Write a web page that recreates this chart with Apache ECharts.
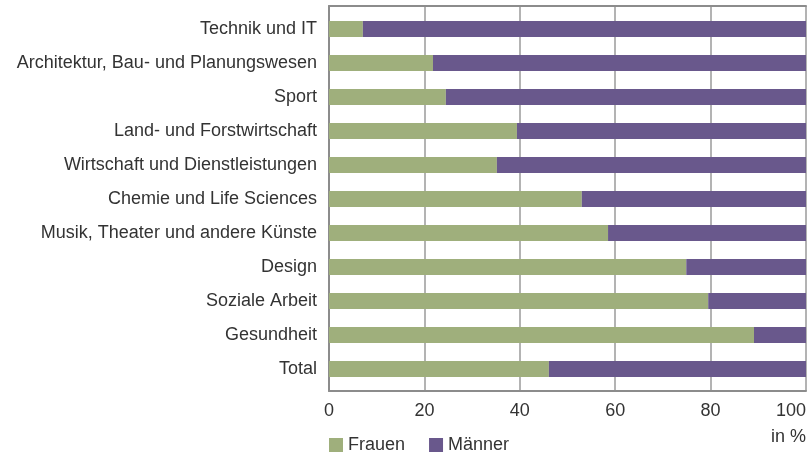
<!DOCTYPE html>
<html>
<head>
<meta charset="utf-8">
<script src="https://cdn.jsdelivr.net/npm/echarts@6/dist/echarts.min.js"></script>
<style>
  html, body { margin: 0; padding: 0; background: #fff; }
  #chart { width: 809px; height: 454px; }
</style>
</head>
<body>
<div id="chart"></div>
<script>
// categories top to bottom
var categories = [
  "Technik und IT",
  "Architektur, Bau- und Planungswesen",
  "Sport",
  "Land- und Forstwirtschaft",
  "Wirtschaft und Dienstleistungen",
  "Chemie und Life Sciences",
  "Musik, Theater und andere Künste",
  "Design",
  "Soziale Arbeit",
  "Gesundheit",
  "Total"
];
var frauen = [7.1, 21.8, 24.5, 39.4, 35.2, 53.0, 58.5, 74.9, 79.5, 89.1, 46.1];
var maenner = [92.9, 78.2, 75.5, 60.6, 64.8, 47.0, 41.5, 25.1, 20.5, 10.9, 53.9];

var font = "Liberation Sans";
var textColor = "#333";
var frameColor = "#8c8c8c";

var dom = document.getElementById("chart");
var myChart = echarts.init(dom, null, { renderer: "canvas" });

var option = {
  animation: false,
  textStyle: { fontFamily: font },
  grid: [
    // frame with gridlines
    { left: 329, right: 3, top: 6, bottom: 63 },
    // bars, a bit inset from the frame
    { left: 329, right: 3, top: 12, bottom: 68 }
  ],
  legend: {
    left: 324,
    top: 431,
    itemWidth: 14,
    itemHeight: 14,
    itemGap: 24,
    icon: "rect",
    textStyle: { fontSize: 18, color: textColor, fontFamily: font },
    data: ["Frauen", "Männer"]
  },
  graphic: [{
    type: "text",
    right: 3,
    top: 428,
    style: { text: "in %", fontSize: 18, fill: textColor, fontFamily: font }
  }],
  xAxis: [
    {
      gridIndex: 0,
      type: "value",
      min: 0,
      max: 100,
      interval: 20,
      axisLine: { show: true, lineStyle: { color: frameColor, width: 2 } },
      axisTick: { show: false },
      axisLabel: { fontSize: 18, color: textColor, margin: 11, alignMaxLabel: "right" },
      splitLine: { show: true, lineStyle: { color: "#9a9a9a", width: 1.5 } }
    },
    {
      gridIndex: 0,
      type: "value",
      position: "top",
      min: 0,
      max: 100,
      axisLine: { show: true, onZero: false, lineStyle: { color: frameColor, width: 2 } },
      axisTick: { show: false },
      axisLabel: { show: false },
      splitLine: { show: false }
    },
    {
      gridIndex: 1,
      type: "value",
      min: 0,
      max: 100,
      show: false
    }
  ],
  yAxis: [
    {
      gridIndex: 0,
      type: "value",
      min: 0,
      max: 1,
      axisLine: { show: true, lineStyle: { color: frameColor, width: 2 } },
      axisTick: { show: false },
      axisLabel: { show: false },
      splitLine: { show: false }
    },
    {
      gridIndex: 1,
      type: "category",
      inverse: true,
      data: categories,
      axisLine: { show: false },
      axisTick: { show: false },
      axisLabel: { fontSize: 18, color: textColor, margin: 12 },
      splitLine: { show: false }
    }
  ],
  series: [
    {
      name: "Frauen",
      type: "bar",
      stack: "total",
      xAxisIndex: 2,
      yAxisIndex: 1,
      barWidth: 16,
      itemStyle: { color: "#9faf7c" },
      data: frauen
    },
    {
      name: "Männer",
      type: "bar",
      stack: "total",
      xAxisIndex: 2,
      yAxisIndex: 1,
      barWidth: 16,
      itemStyle: { color: "#69588c" },
      data: maenner
    }
  ]
};

myChart.setOption(option);
window.addEventListener("resize", myChart.resize);
</script>
</body>
</html>
